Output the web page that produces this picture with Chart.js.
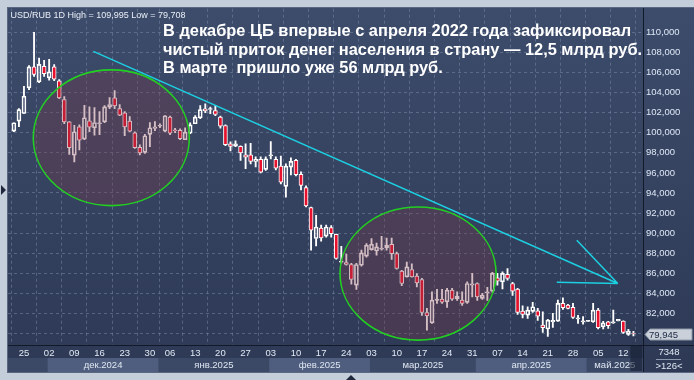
<!DOCTYPE html>
<html><head><meta charset="utf-8">
<script src="https://cdn.jsdelivr.net/npm/chart.js@4.4.1/dist/chart.umd.min.js"></script>
<style>html,body{margin:0;padding:0;background:#c4ceda;overflow:hidden}canvas{display:block}</style>
</head><body>
<canvas id="c" width="694" height="380"></canvas>
<script>
// ---- data (USD/RUB daily candles, Nov 21 2024 .. May 14 2025) ----
const opens = [100.16,101.15,101.92,104.47,106.56,105.07,106.62,105.47,106.56,105.17,
103.31,101.09,97.77,100.59,99.36,101.19,100.5,100.9,101.09,102.54,
103.48,102.41,101.98,101.15,100.0,98.54,98.04,99.83,100.42,100.65,
100.16,101.55,100.3,100.23,99.3,99.96,100.9,101.49,102.38,102.32,
102.21,101.55,100.72,98.9,98.66,98.64,97.81,97.81,97.14,97.34,
96.35,97.7,97.34,96.68,94.66,96.58,97.24,95.85,94.53,92.54,
89.46,90.51,89.7,90.55,89.88,87.1,87.07,86.87,84.81,86.8,
87.7,88.36,88.22,88.4,88.52,88.89,87.96,86.21,85.64,86.37,
85.71,85.38,82.09,81.06,83.3,83.42,83.15,84.32,83.45,83.32,
83.09,84.8,84.98,83.49,84.05,84.22,85.54,85.14,85.88,84.98,
84.42,82.22,81.83,82.2,82.26,80.84,80.44,81.17,81.23,83.0,
82.83,82.6,81.45,81.15,81.2,81.17,82.33,80.67,81.17,81.05,
81.25,81.23,79.91,80.0];
const highs = [101.0,102.41,104.63,106.7,109.995,107.45,107.22,107.32,106.8,105.3,
103.6,101.1,100.75,100.8,102.74,102.58,102.5,102.1,102.7,103.5,
104.2,102.8,102.1,101.6,100.1,98.8,99.85,101.02,101.1,100.9,
101.7,101.65,100.45,100.4,100.5,101.0,101.7,102.71,102.88,102.55,
102.7,101.65,100.8,99.1,99.2,98.7,98.9,98.95,97.6,97.6,
97.6,99.13,97.6,97.67,96.9,97.5,97.35,96.1,94.7,92.6,
91.77,90.8,90.8,90.75,89.9,88.69,87.9,87.0,87.0,88.3,
88.96,89.46,89.0,89.69,89.5,89.5,88.1,86.3,87.1,86.95,
85.97,85.5,82.5,84.15,84.4,84.4,84.5,84.5,84.15,84.15,
85.15,85.98,85.05,84.0,84.6,86.1,85.98,86.15,86.47,85.1,
84.5,82.75,82.66,83.1,82.5,82.16,81.4,82.0,83.32,83.55,
82.9,83.0,81.8,81.68,81.3,83.0,82.5,81.2,81.2,82.33,
81.4,81.25,80.4,80.2];
const lows = [100.1,100.6,101.9,104.3,105.6,105.0,105.6,105.23,105.2,103.4,
100.9,97.84,97.1,98.3,99.3,100.1,99.76,99.8,101.0,102.4,
102.4,101.7,99.7,100.1,98.45,97.8,97.95,98.6,100.2,100.5,
100.1,99.8,100.0,99.3,99.3,99.9,100.9,101.4,102.0,101.9,
101.7,100.45,98.7,98.2,98.6,97.24,96.42,96.9,96.6,96.0,
96.25,97.4,96.3,94.9,93.59,95.8,95.7,94.3,92.6,88.29,
88.72,89.2,89.6,89.6,87.4,87.0,86.8,84.91,84.39,86.7,
87.6,88.3,87.8,88.3,88.3,87.37,86.4,84.75,85.6,85.6,
84.63,81.8,80.34,81.0,83.0,83.0,82.6,83.3,83.3,82.8,
83.0,83.65,83.3,83.4,83.3,84.1,84.8,84.45,85.3,83.8,
81.9,81.54,81.5,82.1,81.3,80.1,79.708,80.6,81.2,82.4,
82.45,81.5,81.0,80.93,81.2,81.1,80.44,80.44,80.5,81.0,
81.25,80.0,79.8,79.75];
const closes = [101.0,102.31,103.64,106.56,105.82,106.82,105.89,106.06,105.33,103.48,
101.09,98.51,100.1,99.26,101.49,100.55,101.02,101.0,102.58,102.81,
102.68,101.75,100.59,100.16,98.51,98.0,99.7,100.5,100.59,100.75,
101.69,99.96,100.2,99.4,100.06,100.79,101.55,102.31,102.18,102.4,
101.82,100.65,98.8,98.64,98.9,98.0,97.57,97.14,97.34,96.08,
97.41,97.8,96.48,95.08,96.68,97.14,95.82,94.76,92.7,90.28,
90.61,89.52,90.61,89.95,87.47,87.2,86.87,85.38,86.87,88.03,
88.79,88.89,88.62,88.5,88.79,87.96,86.47,84.98,86.63,85.64,
85.04,82.09,81.76,83.32,83.4,83.12,84.32,83.42,83.72,82.99,
84.98,84.95,83.65,83.82,84.15,85.98,85.21,85.98,85.48,84.22,
82.1,81.9,82.33,82.66,81.73,80.57,81.33,81.3,83.0,82.56,
82.5,81.6,81.55,81.25,81.3,82.33,80.57,81.06,80.77,81.15,
81.4,80.11,80.24,79.945];

const xTickIdx = [2,7,12,17,22,27,31,36,41,46,51,56,61,66,71,76,81,86,91,96,101,106,111,116,121];
const xTickLabels = ['25','02','09','16','23','30','06','13','20','27','03','10','17','24','03','10','17','24','31','07','14','21','28','05','12'];
const monthLabels = ['дек.2024','янв.2025','фев.2025','мар.2025','апр.2025','май.2025'];
const monthFirstIdx = [7,29,51,71,92,114];
const monthLastIdx = [28,50,70,91,113,123];
const yTickValues = [80,82,84,86,88,90,92,94,96,98,100,102,104,106,108,110];

const titleText = 'USD/RUB 1D High = 109,995 Low = 79,708';
const noteLines = [
  'В декабре ЦБ впервые с апреля 2022 года зафиксировал',
  'чистый приток денег населения в страну — 12,5 млрд руб.',
  'В марте  пришло уже 56 млрд руб.'
];
const infoTop = '7348';
const infoBottom = '>126<';

// annotation shapes in data space (candle index, price)
const ellipseBoxes = [
  {x0: 3.85, x1: 34.83, y0: 106.26, y1: 92.74},
  {x0: 64.75, x1: 95.73, y0: 92.6, y1: 79.34}
];
const trendLine = {x0: 15.77, y0: 108.11, x1: 119.9, y1: 84.98};
const arrowTails = [{x: 107.78, y: 85.11}, {x: 111.75, y: 89.29}];

// ---- derived datasets ----
const idx = opens.map((_, i) => i);
const bodyData = idx.map(i => ({x: i, y: [opens[i], closes[i]]}));
const upWick = idx.map(i => ({x: i, y: [Math.max(opens[i], closes[i]), highs[i]]}));
const loWick = idx.map(i => ({x: i, y: [lows[i], Math.min(opens[i], closes[i])]}));
const bodyColors = idx.map(i => closes[i] >= opens[i] ? 'rgba(0,0,0,0)' : '#e8112d');

const FONT = '"Liberation Sans", Arial, sans-serif';
const fmt = v => v.toFixed(3).replace('.', ',');

const bgPlugin = {
  id: 'bg',
  beforeDraw(chart) {
    const ctx = chart.ctx, W = chart.width, H = chart.height;
    const xs = chart.scales.x, ca = chart.chartArea;
    ctx.save();
    ctx.fillStyle = '#c4ceda';
    ctx.fillRect(0, 0, W, H);
    const g = ctx.createLinearGradient(0, 8, 0, 372);
    g.addColorStop(0, '#3d4c6b');
    g.addColorStop(1, '#2d3955');
    ctx.fillStyle = g;
    ctx.fillRect(8, 8, W - 8, 364);
    // month row
    ctx.fillStyle = '#3b4866';
    ctx.fillRect(ca.left, 358, ca.right - ca.left, 14);
    ctx.fillStyle = '#4f5e7e';
    for (let m = 0; m < monthLabels.length; m += 2) {
      const a = xs.getPixelForValue(monthFirstIdx[m] - 0.5) + 1;
      const b = Math.min(ca.right, xs.getPixelForValue(monthLastIdx[m] + 0.5) + 1);
      ctx.fillRect(a, 358, b - a, 14);
    }
    ctx.fillStyle = '#dfe7f2';
    ctx.font = '9.5px ' + FONT;
    ctx.textAlign = 'center';
    ctx.textBaseline = 'middle';
    for (let m = 0; m < monthLabels.length; m++) {
      const a = xs.getPixelForValue(monthFirstIdx[m] - 0.5) + 1;
      const b = Math.min(ca.right, xs.getPixelForValue(monthLastIdx[m] + 0.5) + 1);
      const bb = m === monthLabels.length - 1 ? ca.right : b;
      ctx.fillText(monthLabels[m], (a + bb) / 2, 365.5);
    }
    ctx.restore();
  },
  afterDatasetsDraw(chart) {
    const ctx = chart.ctx, xs = chart.scales.x, ys = chart.scales.y, ca = chart.chartArea;
    ctx.save();
    ctx.beginPath();
    ctx.rect(ca.left, ca.top, ca.right - ca.left, ca.bottom - ca.top);
    ctx.clip();
    for (const e of ellipseBoxes) {
      const x1 = xs.getPixelForValue(e.x0), x2 = xs.getPixelForValue(e.x1);
      const y1 = ys.getPixelForValue(e.y0), y2 = ys.getPixelForValue(e.y1);
      ctx.beginPath();
      ctx.ellipse((x1 + x2) / 2, (y1 + y2) / 2, Math.abs(x2 - x1) / 2, Math.abs(y2 - y1) / 2, 0, 0, Math.PI * 2);
      ctx.fillStyle = 'rgba(125,57,72,0.32)';
      ctx.fill();
      ctx.strokeStyle = '#22d022';
      ctx.lineWidth = 1.6;
      ctx.stroke();
    }
    ctx.strokeStyle = '#1ccfe0';
    ctx.lineWidth = 1.5;
    const tx = xs.getPixelForValue(trendLine.x1), ty = ys.getPixelForValue(trendLine.y1);
    ctx.beginPath();
    ctx.moveTo(xs.getPixelForValue(trendLine.x0), ys.getPixelForValue(trendLine.y0));
    ctx.lineTo(tx, ty);
    for (const a of arrowTails) {
      ctx.moveTo(xs.getPixelForValue(a.x), ys.getPixelForValue(a.y));
      ctx.lineTo(tx, ty);
    }
    ctx.stroke();
    ctx.restore();
  },
  afterDraw(chart) {
    const ctx = chart.ctx, xs = chart.scales.x, ys = chart.scales.y, ca = chart.chartArea, W = chart.width;
    ctx.save();
    // current-bar box on axis rows
    ctx.fillStyle = 'rgba(22,30,48,0.6)';
    const cb = xs.getPixelForValue(opens.length - 1.6);
    ctx.fillRect(cb, 346, ca.right - cb - 1, 25);
    // axis lines
    ctx.strokeStyle = '#121a2a';
    ctx.lineWidth = 1;
    ctx.beginPath();
    ctx.moveTo(8, 345.5); ctx.lineTo(W, 345.5);
    ctx.moveTo(643.5, 8); ctx.lineTo(643.5, 372);
    ctx.stroke();
    // panel border
    ctx.strokeStyle = '#5b6780';
    ctx.strokeRect(7.5, 7.5, W - 7, 365);
    // title
    ctx.fillStyle = '#e9eef6';
    ctx.font = '9px ' + FONT;
    ctx.textAlign = 'left';
    ctx.textBaseline = 'alphabetic';
    ctx.fillText(titleText, 10.5, 17.5);
    // note
    ctx.fillStyle = '#ffffff';
    ctx.font = 'bold 16.4px ' + FONT;
    const base = [36, 54.5, 73];
    noteLines.forEach((l, i) => ctx.fillText(l, 163, base[i]));
    // price tag
    const last = closes[closes.length - 1];
    const py = Math.round(ys.getPixelForValue(last)) + 0.5;
    ctx.beginPath();
    ctx.moveTo(645, py);
    ctx.lineTo(650, py - 5.5);
    ctx.lineTo(692, py - 5.5);
    ctx.lineTo(692, py + 5.5);
    ctx.lineTo(650, py + 5.5);
    ctx.closePath();
    ctx.fillStyle = '#c9d0da';
    ctx.fill();
    ctx.strokeStyle = '#8f99a8';
    ctx.stroke();
    ctx.fillStyle = '#1c2640';
    ctx.font = '9.5px ' + FONT;
    ctx.textBaseline = 'middle';
    ctx.fillText(fmt(last), 649, py + 0.5);
    // info box
    ctx.fillStyle = '#dfe7f2';
    ctx.textAlign = 'center';
    ctx.font = '9.5px ' + FONT;
    ctx.fillText(infoTop, 669, 352.5);
    ctx.fillText(infoBottom, 669, 366);
    ctx.strokeStyle = '#8b97ad';
    ctx.beginPath();
    ctx.moveTo(656, 359.5); ctx.lineTo(681, 359.5);
    ctx.stroke();
    // small frame markers
    ctx.fillStyle = '#1e283d';
    ctx.beginPath();
    ctx.moveTo(1, 185); ctx.lineTo(6, 190); ctx.lineTo(1, 195); ctx.closePath();
    ctx.fill();
    ctx.beginPath();
    ctx.moveTo(346, 380); ctx.lineTo(351, 375); ctx.lineTo(356, 380); ctx.closePath();
    ctx.fill();
    ctx.restore();
  }
};

const gridColor = 'rgba(118,134,164,0.55)';
new Chart(document.getElementById('c').getContext('2d'), {
  type: 'bar',
  data: {
    datasets: [
      {data: bodyData, backgroundColor: bodyColors, borderColor: '#ffffff', borderWidth: 1,
       borderSkipped: false, barThickness: 4, grouped: false, order: 0},
      {data: upWick, backgroundColor: '#ffffff', borderWidth: 0, barThickness: 1.2, grouped: false, order: 1},
      {data: loWick, backgroundColor: '#ffffff', borderWidth: 0, barThickness: 1.2, grouped: false, order: 2}
    ]
  },
  options: {
    responsive: false,
    animation: false,
    devicePixelRatio: 1,
    layout: {padding: {left: 8, top: 8, right: 0, bottom: 0}},
    plugins: {legend: {display: false}, tooltip: {enabled: false}},
    scales: {
      x: {
        type: 'linear', min: -1.17, max: 124.9, offset: false, position: 'bottom',
        afterBuildTicks: s => { s.ticks = xTickIdx.map(v => ({value: v})); },
        afterFit: s => { s.height = 35; },
        ticks: {
          autoSkip: false, maxRotation: 0, color: '#e1e9f4', padding: 3,
          font: {family: FONT, size: 9.5},
          callback: v => { const k = xTickIdx.indexOf(v); return k >= 0 ? xTickLabels[k] : ''; }
        },
        grid: {color: gridColor, lineWidth: 1, drawTicks: false},
        border: {display: false, dash: [3, 3]}
      },
      y: {
        type: 'linear', position: 'right', min: 78.85, max: 112.36,
        afterBuildTicks: s => { s.ticks = yTickValues.map(v => ({value: v})); },
        afterFit: s => { s.width = 51; },
        ticks: {
          color: '#dfe8f6', padding: 3, font: {family: FONT, size: 9.5},
          callback: v => v === 80 ? '' : fmt(v)
        },
        grid: {color: gridColor, lineWidth: 1, drawTicks: false},
        border: {display: false, dash: [3, 3]}
      }
    }
  },
  plugins: [bgPlugin]
});
</script>
</body></html>
